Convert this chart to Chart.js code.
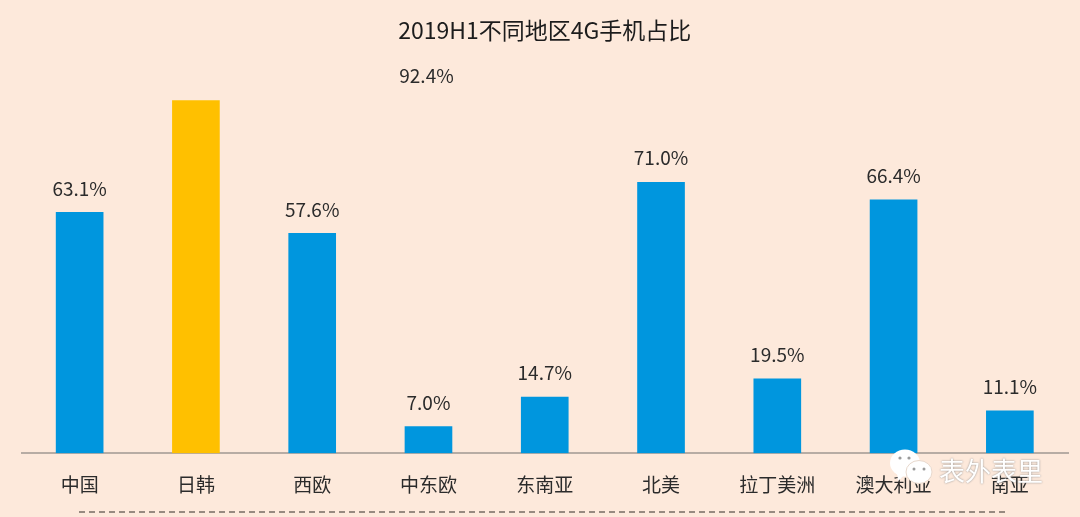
<!DOCTYPE html>
<html>
<head>
<meta charset="utf-8">
<script src="https://cdn.jsdelivr.net/npm/chart.js@4"></script>
<style>
  html, body { margin: 0; padding: 0; background: #fde9db; }
  .wrap { position: relative; width: 1080px; height: 517px; overflow: hidden; }
  canvas { position: absolute; left: 0; top: 0; }
  .dashes { position: absolute; left: 79px; top: 511px; width: 926px; border-top: 2px dashed #978a80; }
  .mark { position: absolute; left: 939px; top: 453px; font: 26px "Noto Sans CJK SC", sans-serif; color: #fff; line-height: 34px; text-shadow: 0 0 2px #888; }
  svg { position: absolute; left: 889px; top: 448px; }
</style>
</head>
<body>
<div class="wrap">
  <canvas id="chart" width="1080" height="517"></canvas>
  <div class="dashes"></div>
  <svg width="48" height="40" viewBox="0 0 48 40">
    <ellipse cx="16" cy="15" rx="15" ry="13.5" fill="#fff"/>
    <path d="M8 24 L9 33 L16 27 Z" fill="#fff"/>
    <ellipse cx="30" cy="24" rx="13" ry="11.5" fill="#fff" stroke="#e8d8cc" stroke-width="1"/>
    <circle cx="11" cy="10" r="1.6" fill="#9a9a9a"/>
    <circle cx="20" cy="10" r="1.6" fill="#9a9a9a"/>
    <circle cx="25" cy="21" r="1.5" fill="#9a9a9a"/>
    <circle cx="35" cy="21" r="1.5" fill="#9a9a9a"/>
  </svg>
  <div class="mark">表外表里</div>
</div>
<script>
const FONT = '"Noto Sans CJK SC", sans-serif';
const categories = ['中国', '日韩', '西欧', '中东欧', '东南亚', '北美', '拉丁美洲', '澳大利亚', '南亚'];
const share = [63.1, 92.4, 57.6, 7.0, 14.7, 71.0, 19.5, 66.4, 11.1];
const BLUE = '#0096de';
const YELLOW = '#ffc000';
const barColors = categories.map(c => c === '日韩' ? YELLOW : BLUE);

// the 日韩 label sits away from its bar in the original
const strayLabel = '日韩';
const strayLabelOver = '中东欧';

const valueLabels = {
  id: 'valueLabels',
  afterDatasetsDraw(chart) {
    const { ctx, scales } = chart;
    const bars = chart.getDatasetMeta(0).data;
    ctx.save();
    ctx.font = '19px ' + FONT;
    ctx.fillStyle = '#2b2b2b';
    ctx.textAlign = 'center';
    ctx.textBaseline = 'middle';
    share.forEach((v, i) => {
      const text = v.toFixed(1) + '%';
      if (categories[i] === strayLabel) {
        ctx.fillText(text, scales.x.getPixelForValue(categories.indexOf(strayLabelOver)) - 2, bars[i].y - 25);
      } else {
        ctx.fillText(text, bars[i].x, bars[i].y - 24);
      }
    });
    ctx.restore();
  }
};

new Chart(document.getElementById('chart').getContext('2d'), {
  type: 'bar',
  data: {
    labels: categories,
    datasets: [{
      data: share,
      backgroundColor: barColors,
      barThickness: 47
    }]
  },
  plugins: [valueLabels],
  options: {
    responsive: false,
    animation: false,
    layout: { padding: { left: 21.5, right: 12, top: 0, bottom: 1 } },
    scales: {
      x: {
        grid: { display: false, drawTicks: false },
        border: { color: '#b7aca4', width: 2 },
        ticks: { color: '#2b2b2b', font: { size: 19, family: FONT }, padding: 20, maxRotation: 0, autoSkip: false }
      },
      y: { display: false, min: 0, max: 100 }
    },
    plugins: {
      legend: { display: false },
      tooltip: { enabled: false },
      title: {
        display: true,
        text: '2019H1不同地区4G手机占比',
        color: '#1c1c1c',
        font: { size: 23, weight: 'normal', family: FONT },
        padding: { top: 16, bottom: 28 }
      }
    }
  }
});
</script>
</body>
</html>
